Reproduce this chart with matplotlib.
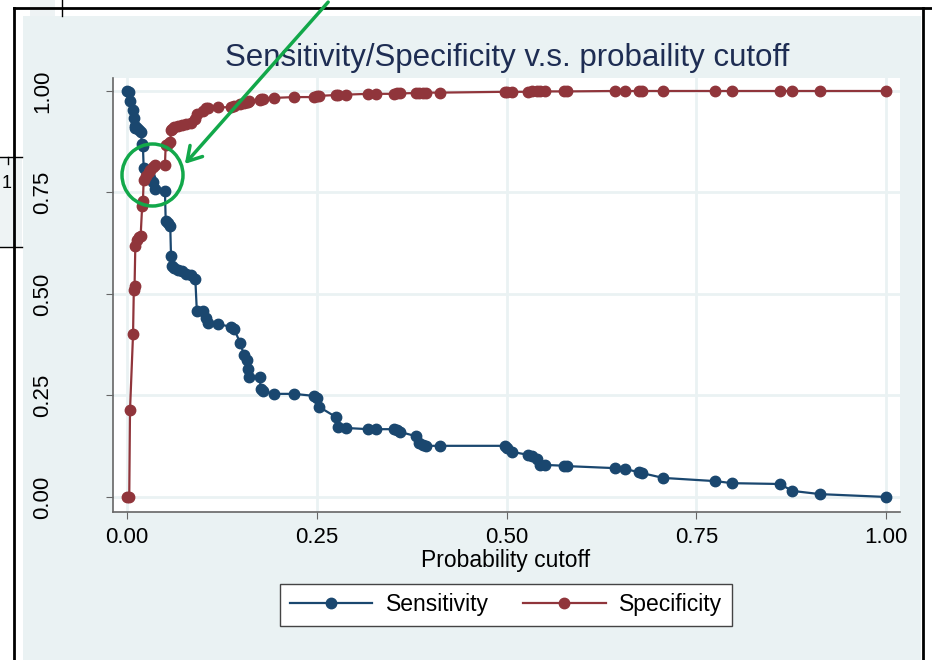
import matplotlib
matplotlib.use("Agg")
import matplotlib.pyplot as plt
from matplotlib.patches import Rectangle, Ellipse, FancyArrowPatch
from matplotlib.lines import Line2D

plt.rcParams["font.family"] = ["Liberation Sans", "DejaVu Sans"]

# ----------------------
# data
# ----------------------
cutoff = [0.000, 0.003, 0.004, 0.008, 0.009, 0.010, 0.011, 0.013, 0.016, 0.018,
          0.020, 0.021, 0.022, 0.025, 0.029, 0.030, 0.034, 0.037, 0.050, 0.051,
          0.054, 0.057, 0.058, 0.059, 0.062, 0.067, 0.072, 0.078, 0.084, 0.090,
          0.092, 0.100, 0.104, 0.107, 0.120, 0.137, 0.141, 0.149, 0.154, 0.158,
          0.160, 0.161, 0.175, 0.176, 0.179, 0.194, 0.220, 0.246, 0.250, 0.253,
          0.275, 0.278, 0.288, 0.318, 0.328, 0.352, 0.356, 0.360, 0.380, 0.384,
          0.390, 0.394, 0.412, 0.498, 0.500, 0.507, 0.528, 0.534, 0.540, 0.544,
          0.550, 0.575, 0.580, 0.643, 0.656, 0.674, 0.678, 0.706, 0.775, 0.797,
          0.860, 0.876, 0.913, 1.000]
sensitivity = [1.000, 0.998, 0.975, 0.953, 0.933, 0.915, 0.910, 0.908, 0.905, 0.898,
               0.870, 0.865, 0.810, 0.805, 0.795, 0.786, 0.775, 0.759, 0.754, 0.680,
               0.675, 0.667, 0.593, 0.569, 0.565, 0.560, 0.556, 0.549, 0.547, 0.537,
               0.458, 0.458, 0.440, 0.429, 0.426, 0.419, 0.414, 0.380, 0.350, 0.337,
               0.315, 0.296, 0.296, 0.266, 0.261, 0.254, 0.254, 0.249, 0.244, 0.222,
               0.197, 0.172, 0.170, 0.167, 0.167, 0.167, 0.165, 0.160, 0.150, 0.133,
               0.128, 0.126, 0.126, 0.126, 0.120, 0.111, 0.104, 0.101, 0.094, 0.079,
               0.079, 0.077, 0.076, 0.071, 0.069, 0.061, 0.059, 0.047, 0.039, 0.034,
               0.032, 0.015, 0.007, 0.000]
specificity = [0.000, 0.000, 0.214, 0.401, 0.510, 0.520, 0.618, 0.633, 0.640, 0.643,
               0.717, 0.730, 0.780, 0.790, 0.800, 0.806, 0.813, 0.818, 0.818, 0.867,
               0.870, 0.874, 0.904, 0.907, 0.911, 0.914, 0.916, 0.919, 0.921, 0.931,
               0.943, 0.950, 0.958, 0.958, 0.960, 0.960, 0.962, 0.968, 0.970, 0.972,
               0.973, 0.975, 0.978, 0.980, 0.981, 0.983, 0.985, 0.985, 0.988, 0.988,
               0.990, 0.990, 0.991, 0.993, 0.993, 0.993, 0.994, 0.994, 0.995, 0.995,
               0.996, 0.996, 0.996, 0.998, 0.998, 0.998, 0.998, 0.999, 0.999, 0.999,
               0.999, 0.999, 0.999, 1.000, 1.000, 1.000, 1.000, 1.000, 1.000, 1.000,
               1.000, 1.000, 1.000, 1.000]
ticks = [0.00, 0.25, 0.50, 0.75, 1.00]
tick_labels = ["0.00", "0.25", "0.50", "0.75", "1.00"]

# ----------------------
# figure in pixel terms
# ----------------------
W, H = 932, 660
fig = plt.figure(figsize=(W / 100, H / 100), dpi=100)
fig.patch.set_facecolor("white")


def fx(px):
    return px / W


def fy(py):
    return 1 - py / H


bg = "#EAF2F3"
fig.patches.append(Rectangle((fx(23), 0), fx(921) - fx(23), fy(16),
                             transform=fig.transFigure, facecolor=bg,
                             edgecolor="none", zorder=-5))
# bits of other windows in the screenshot
fig.patches.append(Rectangle((0, fy(247)), fx(22), fy(157) - fy(247),
                             transform=fig.transFigure, facecolor="#EEF3F4",
                             edgecolor="none", zorder=-5))
fig.patches.append(Rectangle((fx(30), fy(16)), fx(25), fy(0) - fy(16),
                             transform=fig.transFigure, facecolor="#EEF3F4",
                             edgecolor="none", zorder=-5))
for xs, ys, w in [([14, 932], [8, 8], 2), ([14, 14], [8, 660], 2),
                  ([923, 923], [8, 660], 2), ([62, 62], [0, 16], 1),
                  ([0, 22], [157, 157], 1), ([0, 22], [247, 247], 1),
                  ([8, 8], [157, 164], 1)]:
    fig.add_artist(Line2D([fx(v) for v in xs], [fy(v) for v in ys],
                          transform=fig.transFigure, color="black", lw=w))
fig.text(fx(7), fy(183), "1", fontsize=13, ha="center", va="center")

# ----------------------
# plot
# ----------------------
ax = fig.add_axes([fx(113), fy(512), fx(900) - fx(113), fy(78) - fy(512)])
ax.set_zorder(1)
ax.set_facecolor("white")
ax.plot(cutoff, sensitivity, color="#1A476F", marker="o", ms=7.5, lw=1.6,
        label="Sensitivity", zorder=3)
ax.plot(cutoff, specificity, color="#90353B", marker="o", ms=7.5, lw=1.6,
        label="Specificity", zorder=3)

ax.set_xlim(-0.0184, 1.018)
ax.set_ylim(-0.037, 1.032)
ax.set_xticks(ticks)
ax.set_xticklabels(tick_labels)
ax.set_yticks(ticks)
ax.set_yticklabels(tick_labels, rotation=90, va="center")
ax.grid(color=bg, lw=2)
ax.set_axisbelow(True)
for s in ["top", "right"]:
    ax.spines[s].set_visible(False)
for s in ["left", "bottom"]:
    ax.spines[s].set_color("#666666")
    ax.spines[s].set_linewidth(1.2)
ax.tick_params(axis="x", length=5, color="#666666", labelsize=16, pad=6)
ax.tick_params(axis="y", length=5, color="#666666", labelsize=16, pad=38)

fig.text(fx(507), fy(58), "Sensitivity/Specificity v.s. probaility cutoff",
         fontsize=22.5, color="#1E2D53", ha="center", va="center")
fig.text(fx(506), fy(561), "Probability cutoff", fontsize=16.5,
         ha="center", va="center")

leg = fig.legend(loc="center", bbox_to_anchor=(fx(506), fy(605)), ncol=2,
                 fontsize=16.5, frameon=True, fancybox=False, framealpha=1,
                 handlelength=3.6, handletextpad=0.6, columnspacing=1.5,
                 borderpad=0.4)
leg.get_frame().set_edgecolor("#444444")
leg.get_frame().set_linewidth(1)
leg.set_zorder(5)

# green highlight added on the screenshot
green = "#12A84A"
fig.add_artist(Ellipse((fx(152.5), fy(175)), fx(61), 62 / H,
                       transform=fig.transFigure, facecolor="none",
                       edgecolor=green, lw=2.5, zorder=10))
fig.add_artist(FancyArrowPatch(
    (fx(330), fy(0)), (fx(183), fy(166)), transform=fig.transFigure,
    arrowstyle="->,head_length=10,head_width=6", color=green, lw=2.5,
    zorder=10))

fig.savefig("out.png", dpi=100)
